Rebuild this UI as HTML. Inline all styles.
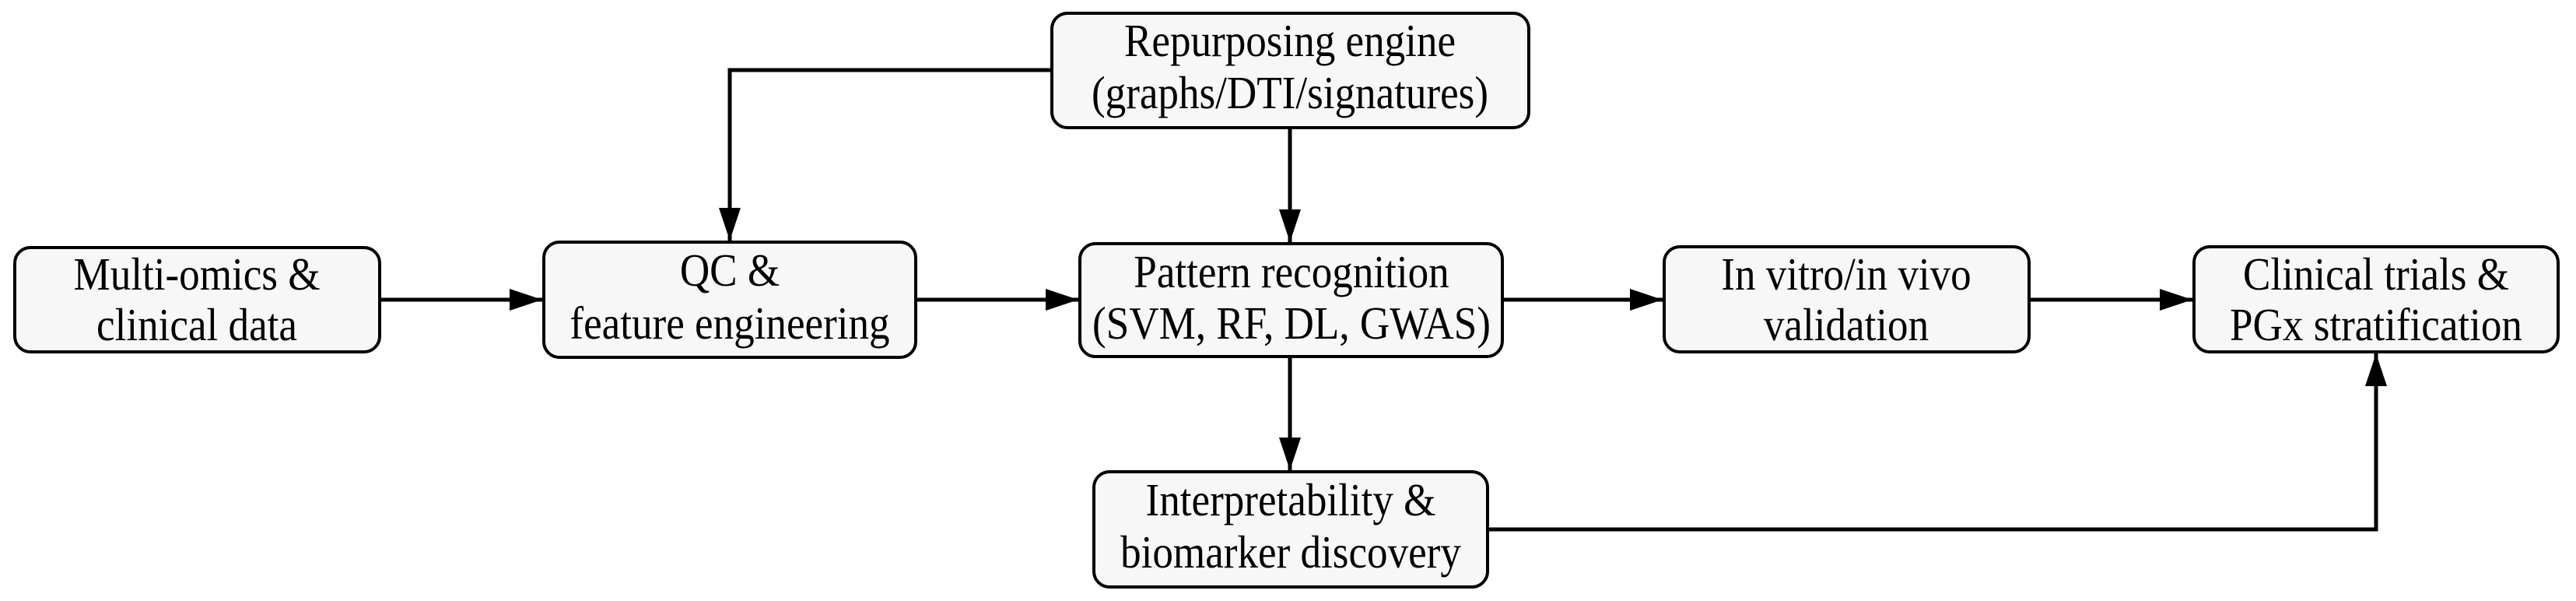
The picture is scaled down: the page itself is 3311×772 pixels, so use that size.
<!DOCTYPE html>
<html><head><meta charset="utf-8"><style>
html,body{margin:0;padding:0;background:#fff;}
svg{display:block;}
text{font-family:"Liberation Serif",serif;font-size:59px;fill:#000;text-anchor:middle;}
</style></head><body>
<svg width="3311" height="772" viewBox="0 0 3311 772" xmlns="http://www.w3.org/2000/svg">
<defs>
<marker id="a" markerUnits="userSpaceOnUse" markerWidth="44" markerHeight="32" refX="42" refY="16" orient="auto">
<path d="M0,2 L42,16 L0,30 Z" fill="#000"/>
</marker>
</defs>
<g fill="#f7f7f7" stroke="#000" stroke-width="4">
<rect x="19" y="318" width="469" height="134" rx="20"/>
<rect x="699" y="311" width="478" height="148" rx="20"/>
<rect x="1388" y="313" width="543" height="145" rx="20"/>
<rect x="1352" y="17" width="613" height="147" rx="20"/>
<rect x="1406" y="606" width="506" height="148" rx="20"/>
<rect x="2139" y="317" width="469" height="135" rx="20"/>
<rect x="2820" y="317" width="468" height="135" rx="20"/>
</g>
<g stroke="#000" stroke-width="5" fill="none">
<line x1="490" y1="385" x2="697" y2="385" marker-end="url(#a)"/>
<line x1="1179" y1="385" x2="1386" y2="385" marker-end="url(#a)"/>
<line x1="1933" y1="385" x2="2137" y2="385" marker-end="url(#a)"/>
<line x1="2610" y1="385" x2="2818" y2="385" marker-end="url(#a)"/>
<polyline points="1350,90 938,90 938,309" marker-end="url(#a)"/>
<line x1="1658" y1="166" x2="1658" y2="311" marker-end="url(#a)"/>
<line x1="1658" y1="460" x2="1658" y2="604" marker-end="url(#a)"/>
<polyline points="1914,680 3054,680 3054,454" marker-end="url(#a)"/>
</g>
<g transform="translate(253,0) scale(0.9,1)"><text x="0" y="372">Multi-omics &amp;</text><text x="0" y="437">clinical data</text></g>
<g transform="translate(938,0) scale(0.9,1)"><text x="0" y="367">QC &amp;</text><text x="0" y="435">feature engineering</text></g>
<g transform="translate(1660,0) scale(0.9,1)"><text x="0" y="369">Pattern recognition</text><text x="0" y="435">(SVM, RF, DL, GWAS)</text></g>
<g transform="translate(1658,0) scale(0.9,1)"><text x="0" y="72">Repurposing engine</text><text x="0" y="139">(graphs/DTI/signatures)</text></g>
<g transform="translate(1659,0) scale(0.9,1)"><text x="0" y="662">Interpretability &amp;</text><text x="0" y="729">biomarker discovery</text></g>
<g transform="translate(2373,0) scale(0.9,1)"><text x="0" y="372">In vitro/in vivo</text><text x="0" y="437">validation</text></g>
<g transform="translate(3054,0) scale(0.9,1)"><text x="0" y="372">Clinical trials &amp;</text><text x="0" y="437">PGx stratification</text></g>
</svg>
</body></html>
